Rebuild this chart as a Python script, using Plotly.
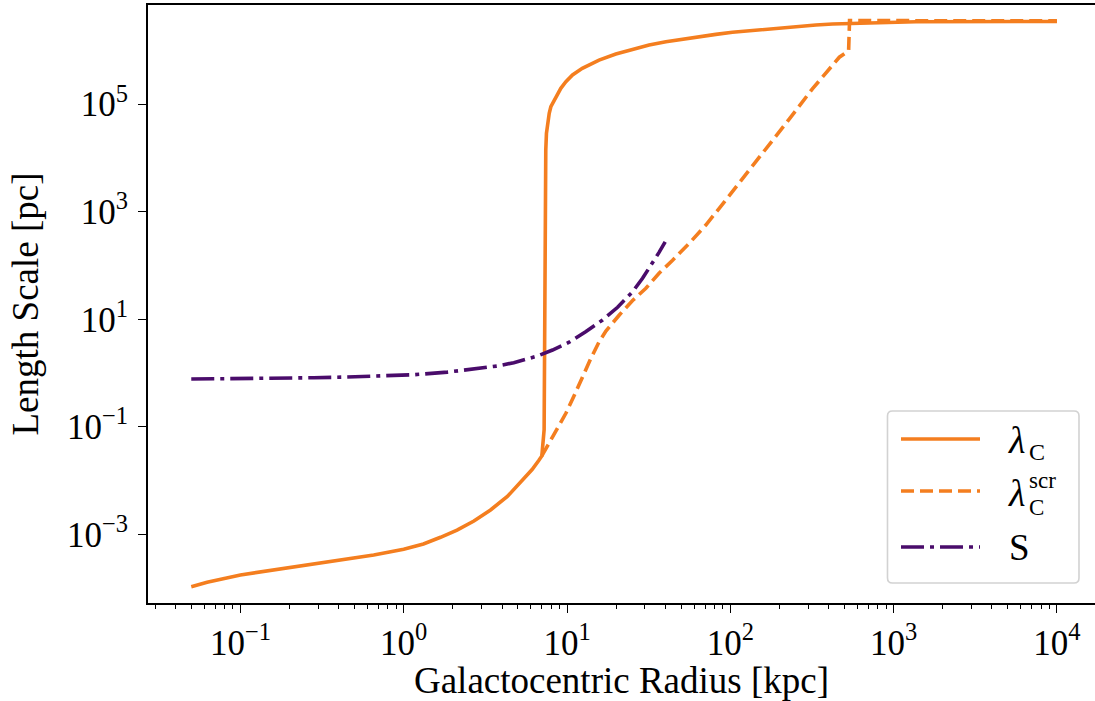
import plotly.graph_objects as go

# Compton wavelength lambda_C versus galactocentric radius [kpc -> pc]
radius_lc = [0.05, 0.0625, 0.1, 0.160, 0.256, 0.409, 0.655, 1.0, 1.32, 1.68,
             2.12, 2.69, 3.40, 4.31, 5.60, 6.11, 6.71, 7.01, 7.24, 7.35, 7.36,
             7.41, 7.48, 7.60, 7.78, 7.96, 8.53, 9.16, 9.84, 10.8, 12.4, 14.0,
             15.7, 19.9, 25.2, 31.8, 40.3, 50.9, 64.6, 81.5, 103, 131, 165, 209,
             264, 334, 423, 1370, 10000]
lambda_c = [1.07e-4, 1.29e-4, 1.77e-4, 2.19e-4, 2.71e-4, 3.31e-4, 4.16e-4,
            5.31e-4, 6.65e-4, 8.87e-4, 1.21e-3, 1.78e-3, 2.85e-3, 5.08e-3,
            0.0117, 0.0161, 0.0237, 0.0288, 0.0891, 1585, 6840, 1.40e4, 2.85e4,
            4.38e4, 6.71e4, 8.91e4, 1.37e5, 1.96e5, 2.59e5, 3.46e5, 4.60e5,
            5.53e5, 6.56e5, 8.49e5, 1.04e6, 1.25e6, 1.44e6, 1.61e6, 1.78e6,
            1.97e6, 2.15e6, 2.30e6, 2.48e6, 2.66e6, 2.82e6, 2.94e6, 3.07e6,
            3.37e6, 3.42e6]

# Screened Compton wavelength
radius_scr = [7.01, 7.60, 8.15, 8.95, 9.84, 11.1, 12.4, 14.0, 15.7, 17.3,
              20.9, 25.2, 30.4, 36.6, 44.3, 56.0, 70.8, 93.8, 230, 318, 465,
              530, 537, 10000]
lambda_scr = [0.0288, 0.0441, 0.0656, 0.108, 0.179, 0.391, 0.855, 1.88, 3.78,
              6.04, 12.0, 22.3, 37.6, 71.4, 125, 258, 564, 1640, 5.31e4,
              1.91e5, 7.41e5, 9.77e5, 3.55e6, 3.51e6]

# Length scale S
radius_s = [0.05, 0.110, 0.281, 0.450, 0.719, 1.15, 1.85, 2.95, 3.73, 4.72,
            5.97, 6.59, 8.15, 8.91, 10.3, 13.0, 16.5, 20.4, 25.2, 29.0, 33.4,
            36.6, 39.9]
s_vals = [0.774, 0.785, 0.820, 0.845, 0.881, 0.931, 1.04, 1.21, 1.35, 1.56,
          1.88, 2.07, 2.68, 3.09, 3.75, 5.86, 9.68, 16.7, 32.5, 57.7, 110,
          175, 275]

x_tickvals = [0.1, 1, 10, 100, 1000, 10000]
x_ticktext = ["10<sup>−1</sup>", "10<sup>0</sup>", "10<sup>1</sup>",
              "10<sup>2</sup>", "10<sup>3</sup>", "10<sup>4</sup>"]
y_tickvals = [1e-3, 1e-1, 1e1, 1e3, 1e5]
y_ticktext = ["10<sup>−3</sup>", "10<sup>−1</sup>", "10<sup>1</sup>",
              "10<sup>3</sup>", "10<sup>5</sup>"]

ORANGE = "#f47e1f"
PURPLE = "#4a0c6b"
FONT = "Liberation Serif"
LW = 3.6
DASH = "13px,6px"
DASHDOT = "23px,6px,4px,6px"

W, H = 1095, 701
ML, MR, MT, MB = 148, 0, 5, 98
PW, PH = W - ML - MR, H - MT - MB


def fx(px):
    return (px - ML) / PW


def fy(py):
    return (H - MB - py) / PH


fig = go.Figure()
fig.add_trace(go.Scatter(x=radius_lc, y=lambda_c, mode="lines", name="λC",
                         line=dict(color=ORANGE, width=LW), showlegend=False))
fig.add_trace(go.Scatter(x=radius_scr, y=lambda_scr, mode="lines", name="λC scr",
                         line=dict(color=ORANGE, width=LW, dash=DASH),
                         showlegend=False))
fig.add_trace(go.Scatter(x=radius_s, y=s_vals, mode="lines", name="S",
                         line=dict(color=PURPLE, width=LW, dash=DASHDOT),
                         showlegend=False))

minor_x = [m * 10 ** e for e in range(-2, 5) for m in range(2, 10)
           if 0.027 < m * 10 ** e < 17000]

fig.update_xaxes(
    type="log", range=[-1.566, 4.233],
    tickvals=x_tickvals, ticktext=x_ticktext,
    ticks="outside", ticklen=8, tickwidth=1.3, tickcolor="black",
    minor=dict(tickvals=minor_x, ticks="outside", ticklen=4.5, tickwidth=1,
               tickcolor="black"),
    showline=True, linecolor="black", linewidth=1.8, mirror=True,
    showgrid=False, zeroline=False,
    tickfont=dict(family=FONT, size=35, color="black"),
    title=dict(text="Galactocentric Radius [kpc]", standoff=10,
               font=dict(family=FONT, size=37, color="black")),
)
fig.update_yaxes(
    type="log", range=[-4.273, 6.84],
    tickvals=y_tickvals, ticktext=y_ticktext,
    ticks="outside", ticklen=8, tickwidth=1.3, tickcolor="black",
    ticklabelstandoff=3,
    showline=True, linecolor="black", linewidth=1.8, mirror=False,
    showgrid=False, zeroline=False,
    tickfont=dict(family=FONT, size=35, color="black"),
    title=dict(text="Length Scale [pc]", standoff=17,
               font=dict(family=FONT, size=37, color="black")),
)

# Legend frame with rounded corners
x0, x1, y0, y1 = fx(887.5), fx(1079), fy(583), fy(411)
rx, ry = 5 / PW, 5 / PH
frame = (f"M{x0 + rx},{y0} L{x1 - rx},{y0} Q{x1},{y0} {x1},{y0 + ry} "
         f"L{x1},{y1 - ry} Q{x1},{y1} {x1 - rx},{y1} L{x0 + rx},{y1} "
         f"Q{x0},{y1} {x0},{y1 - ry} L{x0},{y0 + ry} Q{x0},{y0} {x0 + rx},{y0} Z")
shapes = [dict(type="path", path=frame, xref="paper", yref="paper",
               fillcolor="rgba(255,255,255,0.8)",
               line=dict(color="#d2d2d2", width=1.6), layer="above")]
legend_rows = [
    (439, dict(color=ORANGE, width=LW)),
    (491, dict(color=ORANGE, width=LW, dash=DASH)),
    (547, dict(color=PURPLE, width=LW, dash=DASHDOT)),
]
for py, ln in legend_rows:
    shapes.append(dict(type="line", xref="paper", yref="paper",
                       x0=fx(901), x1=fx(980), y0=fy(py), y1=fy(py),
                       line=ln, layer="above"))

annotations = []


def label(text, px, py, size):
    annotations.append(dict(text=text, x=fx(px), y=fy(py), xref="paper",
                            yref="paper", xanchor="left", yanchor="middle",
                            showarrow=False,
                            font=dict(family=FONT, size=size, color="black")))


label("<i>λ</i>", 1006, 440, 38)
label("C", 1027, 452, 24)
label("<i>λ</i>", 1006, 493, 38)
label("C", 1027, 507, 23)
label("scr", 1027, 480, 23)
label("S", 1007, 547, 37)

fig.update_layout(
    width=W, height=H,
    margin=dict(l=ML, r=MR, t=MT, b=MB, autoexpand=False),
    paper_bgcolor="white", plot_bgcolor="white",
    shapes=shapes, annotations=annotations,
    showlegend=False,
)

fig.write_html("out.html")
